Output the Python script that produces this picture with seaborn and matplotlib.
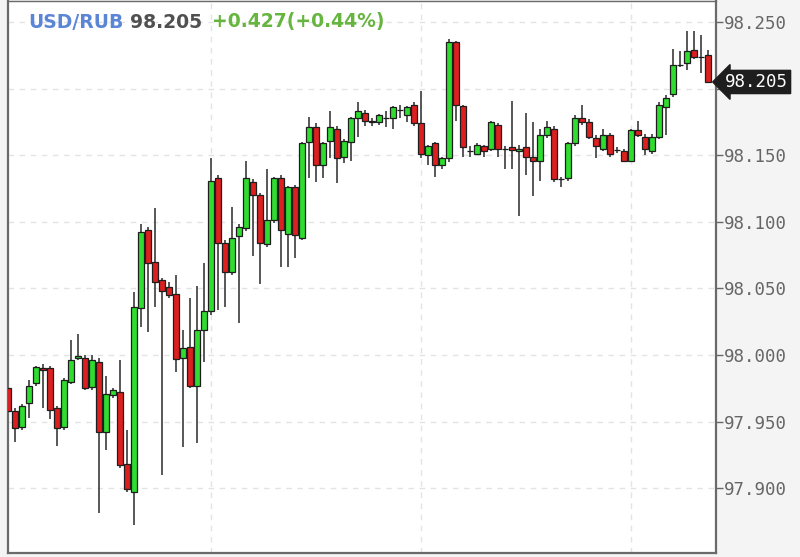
import numpy as np
import pandas as pd
import matplotlib
matplotlib.use("Agg")
import matplotlib.pyplot as plt
import matplotlib.transforms as mtrans
import seaborn as sns

# свечи USD/RUB, значения
opens = [97.975, 97.958, 97.946, 97.964, 97.979, 97.990, 97.990, 97.960, 97.946, 97.980,
         97.998, 97.998, 97.976, 97.995, 97.942, 97.970, 97.972, 97.918, 97.897, 98.035,
         98.094, 98.070, 98.056, 98.051, 98.046, 97.998, 98.006, 97.977, 98.019, 98.033,
         98.133, 98.084, 98.062, 98.089, 98.095, 98.130, 98.120, 98.083, 98.101, 98.133,
         98.091, 98.126, 98.088, 98.160, 98.171, 98.143, 98.161, 98.170, 98.149, 98.160,
         98.178, 98.182, 98.175, 98.175, 98.178, 98.178, 98.184, 98.180, 98.188, 98.174,
         98.150, 98.159, 98.143, 98.148, 98.235, 98.187, 98.153, 98.151, 98.157, 98.155,
         98.173, 98.155, 98.156, 98.153, 98.156, 98.149, 98.146, 98.165, 98.170, 98.132,
         98.133, 98.159, 98.178, 98.175, 98.163, 98.155, 98.165, 98.154, 98.153, 98.146,
         98.169, 98.164, 98.153, 98.164, 98.186, 98.196, 98.218, 98.219, 98.229, 98.224,
         98.225]
highs = [97.981, 97.960, 97.963, 97.981, 97.992, 97.993, 97.992, 97.962, 97.983, 98.011,
         98.016, 98.000, 98.000, 97.998, 97.984, 97.975, 97.996, 97.944, 98.047, 98.098,
         98.096, 98.110, 98.058, 98.055, 98.060, 98.019, 98.043, 98.052, 98.069, 98.148,
         98.135, 98.086, 98.111, 98.098, 98.146, 98.132, 98.122, 98.140, 98.134, 98.135,
         98.127, 98.128, 98.160, 98.179, 98.174, 98.160, 98.183, 98.172, 98.162, 98.179,
         98.190, 98.184, 98.178, 98.181, 98.183, 98.187, 98.188, 98.187, 98.190, 98.198,
         98.158, 98.160, 98.149, 98.237, 98.236, 98.188, 98.157, 98.159, 98.158, 98.176,
         98.174, 98.157, 98.191, 98.158, 98.182, 98.175, 98.170, 98.176, 98.172, 98.134,
         98.160, 98.180, 98.188, 98.177, 98.165, 98.170, 98.167, 98.156, 98.155, 98.170,
         98.176, 98.166, 98.166, 98.190, 98.195, 98.230, 98.228, 98.243, 98.243, 98.240,
         98.229]
lows = [97.955, 97.935, 97.944, 97.953, 97.977, 97.960, 97.952, 97.932, 97.944, 97.978,
        97.996, 97.974, 97.974, 97.881, 97.929, 97.968, 97.915, 97.897, 97.872, 98.021,
        98.017, 98.036, 97.910, 98.043, 97.987, 97.931, 97.975, 97.934, 97.995, 98.030,
        98.034, 98.036, 98.060, 98.024, 98.093, 98.074, 98.053, 98.081, 98.099, 98.066,
        98.066, 98.073, 98.086, 98.133, 98.130, 98.133, 98.148, 98.129, 98.144, 98.146,
        98.164, 98.172, 98.172, 98.173, 98.171, 98.170, 98.178, 98.175, 98.172, 98.148,
        98.143, 98.134, 98.140, 98.145, 98.176, 98.149, 98.149, 98.150, 98.149, 98.153,
        98.149, 98.140, 98.140, 98.104, 98.135, 98.119, 98.131, 98.163, 98.130, 98.126,
        98.131, 98.157, 98.173, 98.162, 98.148, 98.153, 98.149, 98.152, 98.145, 98.145,
        98.164, 98.150, 98.151, 98.162, 98.165, 98.194, 98.216, 98.214, 98.222, 98.212,
        98.204]
closes = [97.958, 97.945, 97.962, 97.977, 97.991, 97.989, 97.959, 97.945, 97.981, 97.996,
          97.999, 97.975, 97.996, 97.942, 97.971, 97.974, 97.917, 97.899, 98.036, 98.092,
          98.069, 98.055, 98.048, 98.045, 97.997, 98.005, 97.977, 98.019, 98.033, 98.131,
          98.084, 98.062, 98.088, 98.096, 98.133, 98.120, 98.084, 98.101, 98.133, 98.094,
          98.126, 98.090, 98.159, 98.171, 98.143, 98.159, 98.171, 98.148, 98.161, 98.178,
          98.183, 98.176, 98.176, 98.180, 98.178, 98.186, 98.184, 98.186, 98.174, 98.151,
          98.157, 98.143, 98.148, 98.235, 98.188, 98.156, 98.153, 98.158, 98.153, 98.175,
          98.155, 98.155, 98.154, 98.155, 98.149, 98.146, 98.165, 98.171, 98.132, 98.132,
          98.159, 98.178, 98.175, 98.164, 98.157, 98.165, 98.151, 98.154, 98.146, 98.169,
          98.165, 98.155, 98.164, 98.188, 98.193, 98.218, 98.218, 98.228, 98.224, 98.224,
          98.205]

y_ticks = [97.90, 97.95, 98.00, 98.05, 98.10, 98.15, 98.20, 98.25]
grid_x = [29, 59, 89]
pair = "USD/RUB"
last_price = 98.205
change_text = "+0.427(+0.44%)"

df = pd.DataFrame({'open': opens, 'high': highs, 'low': lows, 'close': closes})
df['idx'] = np.arange(len(df))
df['up'] = df['close'] >= df['open']
df['body_lo'] = df[['open', 'close']].min(axis=1)
df['body_h'] = (df['close'] - df['open']).abs()

sns.set_style("white")
fig = plt.figure(figsize=(8, 5.57), dpi=100, facecolor='#f4f4f4')
ax = fig.add_axes([0.01, 0.0072, 0.885, 0.991])
ax.set_facecolor('white')

# фитили
ax.vlines(df['idx'], df['low'], df['high'], color='#4a4a4a', linewidth=1.3, zorder=2)
# тела свечей
body_colors = np.where(df['up'], '#2fdc2f', '#dc1f1f')
ax.bar(df['idx'], df['body_h'], bottom=df['body_lo'], width=0.8,
       color=body_colors, edgecolor='#1e1e1e', linewidth=0.9, zorder=3)

ax.set_xlim(0, 101.15)
ax.set_ylim(97.8513, 98.2658)

ax.yaxis.tick_right()
ax.set_yticks(y_ticks)
# подпись 98.200 закрыта меткой текущей цены
ax.set_yticklabels(["" if abs(v - 98.20) < 1e-9 else f"{v:.3f}" for v in y_ticks])
ax.set_xticks(grid_x)
ax.set_xticklabels([])
ax.tick_params(axis='y', direction='out', length=5, width=1, color='#666666',
               labelcolor='#666666', labelsize=12.5, pad=1)
ax.tick_params(axis='x', direction='out', length=4, width=1, color='#666666')
for lbl in ax.get_yticklabels():
    lbl.set_family('DejaVu Sans Mono')

ax.grid(True, which='major', axis='both', color='#e3e3e3', linewidth=1,
        linestyle=(0, (4, 4)), zorder=0)
ax.set_axisbelow(True)

for side in ['left', 'right', 'bottom', 'top']:
    ax.spines[side].set_color('#6a6a6a')
    ax.spines[side].set_linewidth(1.6)
ax.spines['top'].set_linewidth(1.0)

# метка текущей цены
trans = mtrans.blended_transform_factory(ax.transAxes, ax.transData)
ax.text(1.0 + 9 / 708, last_price, f"{last_price:.3f}", transform=trans,
        ha='left', va='center', fontsize=12.5, family='DejaVu Sans Mono',
        color='white', zorder=10, clip_on=False,
        bbox=dict(boxstyle='larrow,pad=0.15', facecolor='#1e1e1e',
                  edgecolor='#1e1e1e'))

# заголовок внутри графика
ty = 1 - 22 / 557
fig.text(28 / 800, ty, pair, color='#5b86d6', fontsize=13.5, fontweight='bold',
         va='center', ha='left')
fig.text(130 / 800, ty, f"{last_price:.3f}", color='#505050', fontsize=13.5,
         fontweight='bold', va='center', ha='left')
fig.text(212 / 800, ty, change_text, color='#66b53f', fontsize=13.5,
         fontweight='bold', va='center', ha='left')

fig.savefig('out.png', dpi=100, facecolor=fig.get_facecolor())
